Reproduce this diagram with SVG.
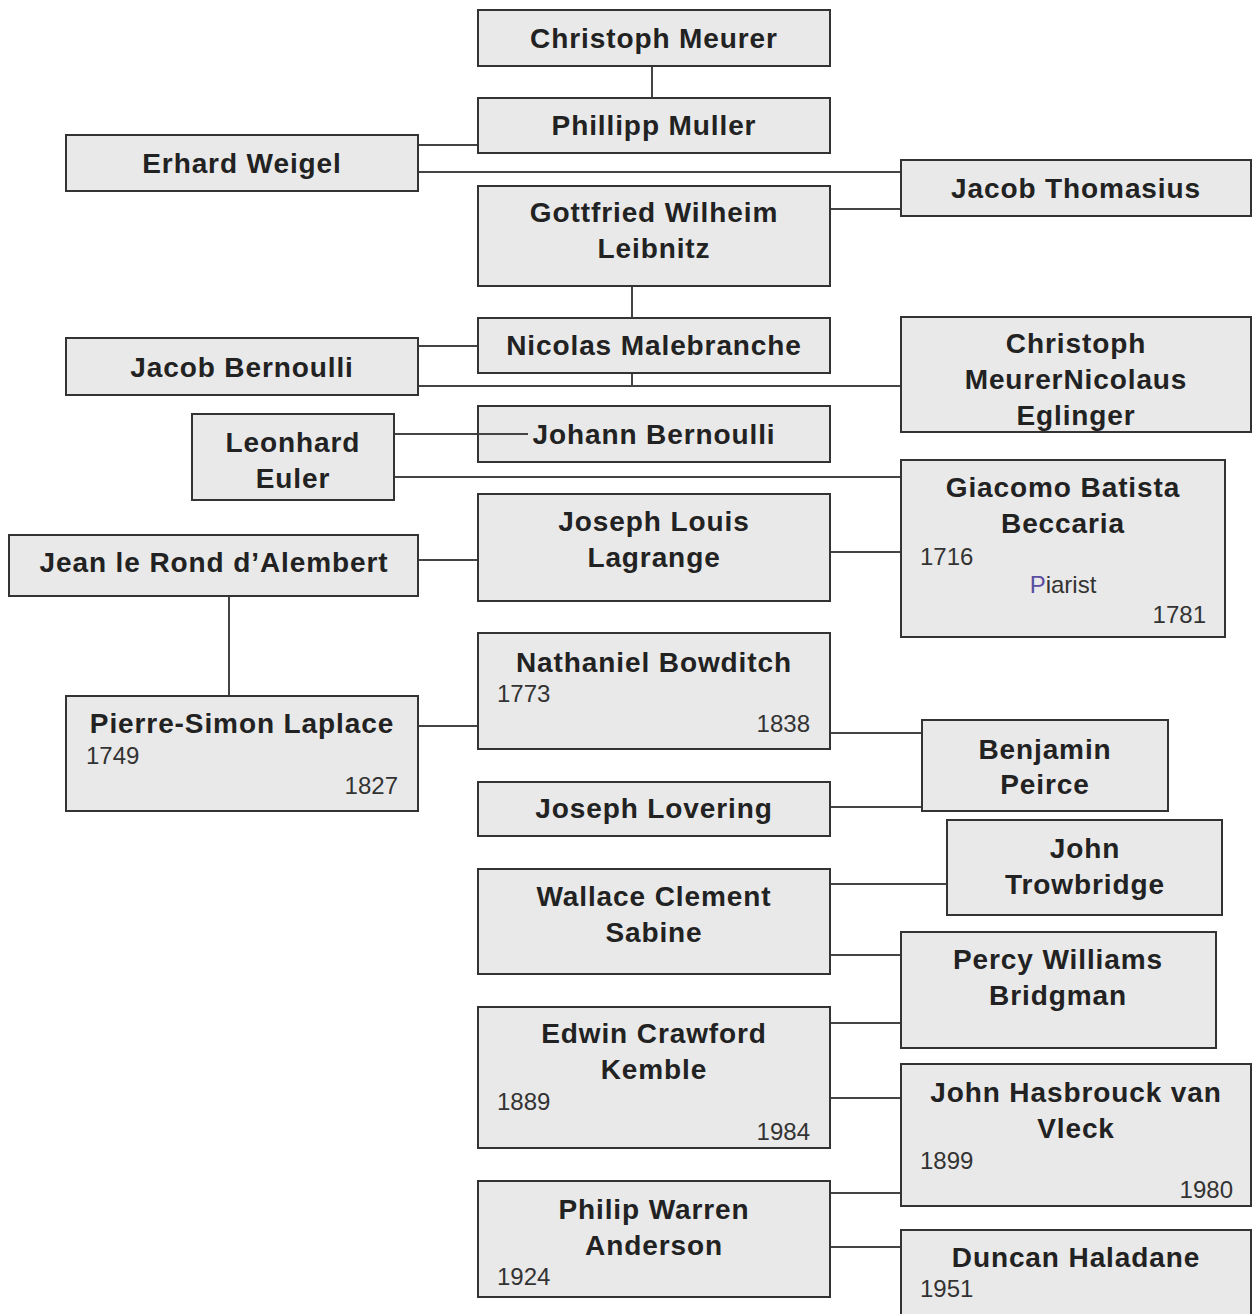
<svg xmlns="http://www.w3.org/2000/svg" width="1252" height="1314" viewBox="0 0 1252 1314">
<style>
.b{fill:#e9e9e9;stroke:#333;stroke-width:2}
.t{font-family:"Liberation Sans",Arial,sans-serif;font-weight:bold;font-size:28px;letter-spacing:0.9px;fill:#222;text-anchor:middle}
.y{font-family:"Liberation Sans",Arial,sans-serif;font-size:24px;fill:#333}
.r{text-anchor:end}
.c{fill:none;stroke:#444;stroke-width:2}
</style>
<rect width="1252" height="1314" fill="#fff"/>
<g id="connectors" class="c">
<path d="M652 66V98"/>
<path d="M418 145H478"/>
<path d="M418 172H901"/>
<path d="M830 209H901"/>
<path d="M632 286V318"/>
<path d="M418 346H478"/>
<path d="M418 386H901"/>
<path d="M632 373V386"/>
<path d="M394 434H528"/>
<path d="M394 477H901"/>
<path d="M418 560H478"/>
<path d="M830 552H901"/>
<path d="M229 596V696"/>
<path d="M418 726H478"/>
<path d="M830 733H922"/>
<path d="M830 807H922"/>
<path d="M830 884H947"/>
<path d="M830 955H901"/>
<path d="M830 1023H901"/>
<path d="M830 1098H901"/>
<path d="M830 1193H901"/>
<path d="M830 1247H901"/>
</g>
<g id="n1"><rect class="b" x="478" y="10" width="352" height="56"/><text class="t" x="654" y="48">Christoph Meurer</text></g>
<g id="n2"><rect class="b" x="478" y="98" width="352" height="55"/><text class="t" x="654" y="135">Phillipp Muller</text></g>
<g id="n3"><rect class="b" x="66" y="135" width="352" height="56"/><text class="t" x="242" y="173">Erhard Weigel</text></g>
<g id="n4"><rect class="b" x="901" y="160" width="350" height="56"/><text class="t" x="1076" y="198">Jacob Thomasius</text></g>
<g id="n5"><rect class="b" x="478" y="186" width="352" height="100"/><text class="t" x="654" y="222">Gottfried Wilheim</text><text class="t" x="654" y="258">Leibnitz</text></g>
<g id="n6"><rect class="b" x="478" y="318" width="352" height="55"/><text class="t" x="654" y="355">Nicolas Malebranche</text></g>
<g id="n7"><rect class="b" x="66" y="338" width="352" height="57"/><text class="t" x="242" y="377">Jacob Bernoulli</text></g>
<g id="n8"><rect class="b" x="901" y="317" width="350" height="115"/><text class="t" x="1076" y="353">Christoph</text><text class="t" x="1076" y="389">MeurerNicolaus</text><text class="t" x="1076" y="425">Eglinger</text></g>
<g id="n9"><rect class="b" x="192" y="414" width="202" height="86"/><text class="t" x="293" y="452">Leonhard</text><text class="t" x="293" y="488">Euler</text></g>
<g id="n10"><rect class="b" x="478" y="406" width="352" height="56"/><path class="c" d="M478 434H528"/><text class="t" x="654" y="444">Johann Bernoulli</text></g>
<g id="n11"><rect class="b" x="901" y="460" width="324" height="177"/><text class="t" x="1063" y="497">Giacomo Batista</text><text class="t" x="1063" y="533">Beccaria</text><text class="y" x="920" y="565">1716</text><text class="y" x="1063" y="593" text-anchor="middle"><tspan fill="#5a4fa0">P</tspan>iarist</text><text class="y r" x="1206" y="623">1781</text></g>
<g id="n12"><rect class="b" x="9" y="535" width="409" height="61"/><text class="t" x="214" y="572">Jean le Rond d’Alembert</text></g>
<g id="n13"><rect class="b" x="478" y="494" width="352" height="107"/><text class="t" x="654" y="531">Joseph Louis</text><text class="t" x="654" y="567">Lagrange</text></g>
<g id="n14"><rect class="b" x="478" y="633" width="352" height="116"/><text class="t" x="654" y="672">Nathaniel Bowditch</text><text class="y" x="497" y="702">1773</text><text class="y r" x="810" y="732">1838</text></g>
<g id="n15"><rect class="b" x="66" y="696" width="352" height="115"/><text class="t" x="242" y="733">Pierre-Simon Laplace</text><text class="y" x="86" y="764">1749</text><text class="y r" x="398" y="794">1827</text></g>
<g id="n16"><rect class="b" x="922" y="720" width="246" height="91"/><text class="t" x="1045" y="759">Benjamin</text><text class="t" x="1045" y="794">Peirce</text></g>
<g id="n17"><rect class="b" x="478" y="782" width="352" height="54"/><text class="t" x="654" y="818">Joseph Lovering</text></g>
<g id="n18"><rect class="b" x="947" y="820" width="275" height="95"/><text class="t" x="1085" y="858">John</text><text class="t" x="1085" y="894">Trowbridge</text></g>
<g id="n19"><rect class="b" x="478" y="869" width="352" height="105"/><text class="t" x="654" y="906">Wallace Clement</text><text class="t" x="654" y="942">Sabine</text></g>
<g id="n20"><rect class="b" x="901" y="932" width="315" height="116"/><text class="t" x="1058" y="969">Percy Williams</text><text class="t" x="1058" y="1005">Bridgman</text></g>
<g id="n21"><rect class="b" x="478" y="1007" width="352" height="141"/><text class="t" x="654" y="1043">Edwin Crawford</text><text class="t" x="654" y="1079">Kemble</text><text class="y" x="497" y="1110">1889</text><text class="y r" x="810" y="1140">1984</text></g>
<g id="n22"><rect class="b" x="901" y="1064" width="350" height="142"/><text class="t" x="1076" y="1102">John Hasbrouck van</text><text class="t" x="1076" y="1138">Vleck</text><text class="y" x="920" y="1169">1899</text><text class="y r" x="1233" y="1198">1980</text></g>
<g id="n23"><rect class="b" x="478" y="1181" width="352" height="116"/><text class="t" x="654" y="1219">Philip Warren</text><text class="t" x="654" y="1255">Anderson</text><text class="y" x="497" y="1285">1924</text></g>
<g id="n24"><rect class="b" x="901" y="1230" width="350" height="95"/><text class="t" x="1076" y="1267">Duncan Haladane</text><text class="y" x="920" y="1297">1951</text></g>
</svg>
